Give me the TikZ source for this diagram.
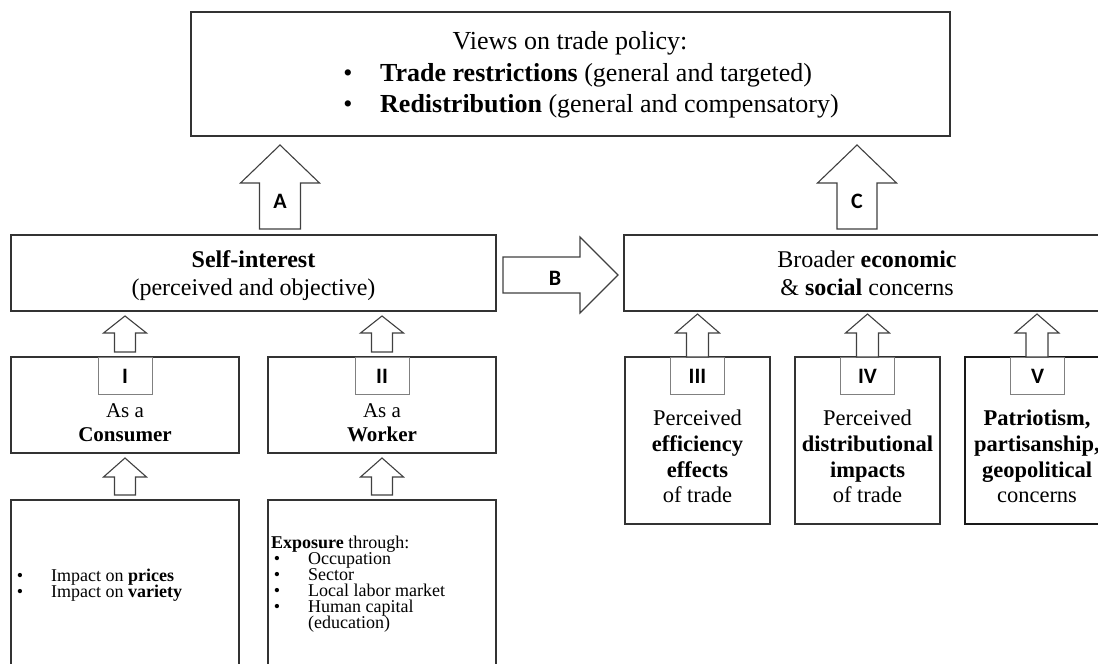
\documentclass[tikz,border=0pt]{standalone}
\usepackage{fontspec}
\setmainfont{Liberation Serif}
\newfontfamily\labfont{Carlito}
\newcommand\UpArr[6]{% x, ytip, ybottom, headhalf, shafthalf, headlen
  \draw[arr] ({#1-#5},#3) -- ({#1-#5},{#2+#6}) -- ({#1-#4},{#2+#6}) -- (#1,#2)
    -- ({#1+#4},{#2+#6}) -- ({#1+#5},{#2+#6}) -- ({#1+#5},#3) -- cycle;}
\begin{document}
\begin{tikzpicture}[x=1pt,y=-1pt,
  box/.style={draw=black!80, line width=1.1pt, inner sep=0pt, outer sep=0pt, anchor=north west},
  tagbox/.style={draw=black!50, line width=0.9pt, inner sep=0pt, anchor=north,
    minimum width=54pt, minimum height=37pt, font=\labfont\bfseries\fontsize{22}{26}\selectfont},
  arr/.style={draw=black!75, line width=1.1pt, fill=white, line join=miter},
  lab/.style={font=\labfont\bfseries\fontsize{22}{26}\selectfont, inner sep=0pt},
  txt/.style={inner sep=0pt, anchor=mid},
  txtl/.style={inner sep=0pt, anchor=mid west},
  fbig/.style={font=\fontsize{26}{31}\selectfont},
  fmid/.style={font=\fontsize{24}{28}\selectfont},
  fbox/.style={font=\fontsize{21}{24}\selectfont},
  fright/.style={font=\fontsize{22.5}{26}\selectfont},
  fsmall/.style={font=\fontsize{18}{16}\selectfont}
]
\clip (0,0) rectangle (1098,664);
\useasboundingbox (0,0) rectangle (1098,664);

% boxes
\node[box, minimum width=759pt, minimum height=124pt] (views) at (191,12) {};
\node[box, minimum width=485pt, minimum height=76pt] (self) at (11,235) {};
\node[box, minimum width=486pt, minimum height=76pt] (broad) at (624,235) {};
\node[box, minimum width=228pt, minimum height=96pt] (cons) at (11,357) {};
\node[box, minimum width=228pt, minimum height=96pt] (work) at (268,357) {};
\node[box, minimum width=228pt, minimum height=200pt] (consb) at (11,500) {};
\node[box, minimum width=228pt, minimum height=200pt] (workb) at (268,500) {};
\node[box, minimum width=145pt, minimum height=167pt] (eff) at (625,357) {};
\node[box, minimum width=145pt, minimum height=167pt] (dist) at (795,357) {};
\node[box, minimum width=145pt, minimum height=167pt, line width=1.5pt, draw=black!90] (patr) at (965,357) {};

% tags
\node[tagbox] (tI) at (cons.north) {I};
\node[tagbox] (tII) at (work.north) {II};
\node[tagbox] (tIII) at (eff.north) {III};
\node[tagbox] (tIV) at (dist.north) {IV};
\node[tagbox] (tV) at (patr.north) {V};

% big arrows
\UpArr{280}{145}{229}{39.5}{20.5}{38}
\UpArr{857}{145}{229}{39.5}{20}{38}
\draw[arr] (503,257) -- (580,257) -- (580,237) -- (618,275) -- (580,313) -- (580,293) -- (503,293) -- cycle;
\node[lab] (lA) at (280,201) {A};
\node[lab] (lB) at (555,278) {B};
\node[lab] (lC) at (857,201) {C};

% small arrows
\UpArr{125}{316}{352}{21.5}{10.5}{17}
\UpArr{382}{316}{352}{21.5}{10.5}{17}
\UpArr{125}{458}{495}{21.5}{10.5}{19}
\UpArr{382}{458}{495}{21.5}{10.5}{19}
\UpArr{697.5}{314}{357}{22}{11}{19}
\UpArr{867.5}{314}{357}{22}{11}{19}
\UpArr{1037}{314}{357}{22}{11}{19}

% top box text
\node[txt, fbig] (v1) at (570,47) {Views on trade policy:};
\node[txt, fbig] (vb1) at (348,79) {•};
\node[txtl, fbig] (v2) at (380,79) {\textbf{Trade restrictions} (general and targeted)};
\node[txt, fbig] (vb2) at (348,110) {•};
\node[txtl, fbig] (v3) at (380,110) {\textbf{Redistribution} (general and compensatory)};

% self-interest
\node[txt, fmid] (s1) at (253.5,265) {\textbf{Self-interest}};
\node[txt, fmid] (s2) at (253.5,293) {(perceived and objective)};

% broader
\node[txt, fmid] (r1) at (867,265) {Broader \textbf{economic}};
\node[txt, fmid] (r2) at (867,293) {\& \textbf{social} concerns};

% consumer / worker
\node[txt, fbox] (c1) at (125,415) {As a};
\node[txt, fbox] (c2) at (125,439) {\textbf{Consumer}};
\node[txt, fbox] (w1) at (382,415) {As a};
\node[txt, fbox] (w2) at (382,439) {\textbf{Worker}};

% right boxes
\node[txt, fright] (e1) at (697.5,423) {Perceived};
\node[txt, fright] (e2) at (697.5,449) {\textbf{efficiency}};
\node[txt, fright] (e3) at (697.5,475) {\textbf{effects}};
\node[txt, fright] (e4) at (697.5,500) {of trade};
\node[txt, fright] (d1) at (867.5,423) {Perceived};
\node[txt, fright] (d2) at (867.5,449) {\textbf{distributional}};
\node[txt, fright] (d3) at (867.5,475) {\textbf{impacts}};
\node[txt, fright] (d4) at (867.5,500) {of trade};
\node[txt, fright] (p1) at (1037,423) {\textbf{Patriotism,}};
\node[txt, fright] (p2) at (1037,449) {\textbf{partisanship,}};
\node[txt, fright] (p3) at (1037,475) {\textbf{geopolitical}};
\node[txt, fright] (p4) at (1037,500) {concerns};

% bottom left box
\node[txt, fsmall] (cb1) at (20,579) {•};
\node[txtl, fsmall] (ct1) at (51,579) {Impact on \textbf{prices}};
\node[txt, fsmall] (cb2) at (20,595) {•};
\node[txtl, fsmall] (ct2) at (51,595) {Impact on \textbf{variety}};

% bottom worker box
\node[txtl, fsmall] (wt0) at (271,546) {\textbf{Exposure} through:};
\node[txt, fsmall] (wb1) at (277,562) {•};
\node[txtl, fsmall] (wt1) at (308,562) {Occupation};
\node[txt, fsmall] (wb2) at (277,578) {•};
\node[txtl, fsmall] (wt2) at (308,578) {Sector};
\node[txt, fsmall] (wb3) at (277,594) {•};
\node[txtl, fsmall] (wt3) at (308,594) {Local labor market};
\node[txt, fsmall] (wb4) at (277,610) {•};
\node[txtl, fsmall] (wt4) at (308,610) {Human capital};
\node[txtl, fsmall] (wt5) at (308,626) {(education)};
\end{tikzpicture}
\end{document}
